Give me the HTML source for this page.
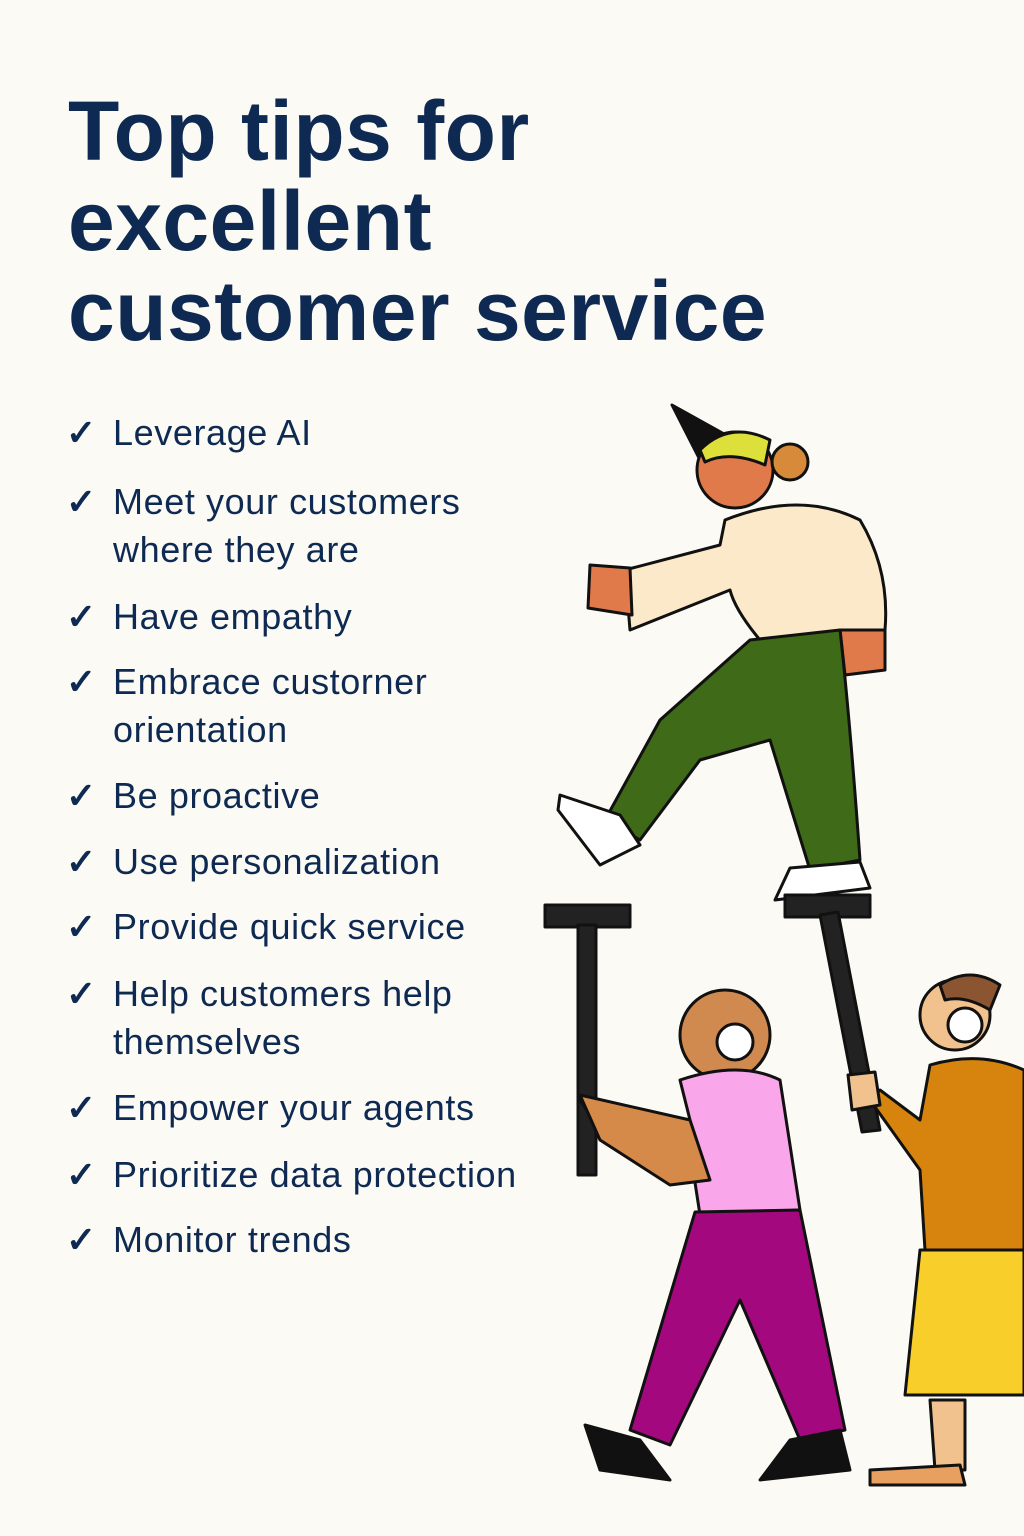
<!DOCTYPE html>
<html><head><meta charset="utf-8"><style>
html,body{margin:0;padding:0}
body{width:1024px;height:1536px;background:#fcfaf4;position:relative;overflow:hidden;font-family:"Liberation Sans",sans-serif;color:#0e2a52}
h1{position:absolute;left:68px;top:86px;margin:0;font-size:84px;line-height:90px;font-weight:bold;letter-spacing:0.5px}
.it{position:absolute;left:66px;font-size:36px;line-height:48px;letter-spacing:0.6px}
.it span{position:absolute;left:0;top:0;font-weight:bold}
.it div{margin-left:47px}
svg{position:absolute;left:0;top:0}
</style></head><body>
<h1>Top tips for<br>excellent<br>customer service</h1>
<div class="it" style="top:409px"><span>✓</span><div>Leverage AI</div></div>
<div class="it" style="top:478px"><span>✓</span><div>Meet your customers<br>where they are</div></div>
<div class="it" style="top:593px"><span>✓</span><div>Have empathy</div></div>
<div class="it" style="top:658px"><span>✓</span><div>Embrace custorner<br>orientation</div></div>
<div class="it" style="top:772px"><span>✓</span><div>Be proactive</div></div>
<div class="it" style="top:838px"><span>✓</span><div>Use personalization</div></div>
<div class="it" style="top:903px"><span>✓</span><div>Provide quick service</div></div>
<div class="it" style="top:970px"><span>✓</span><div>Help customers help<br>themselves</div></div>
<div class="it" style="top:1084px"><span>✓</span><div>Empower your agents</div></div>
<div class="it" style="top:1151px"><span>✓</span><div>Prioritize data protection</div></div>
<div class="it" style="top:1216px"><span>✓</span><div>Monitor trends</div></div>
<svg width="1024" height="1536" stroke="#111" stroke-width="3" stroke-linejoin="round">
<path d="M672 405 L735 440 L700 460 Z" fill="#111"/>
<circle cx="735" cy="470" r="38" fill="#e07a4a"/>
<path d="M700 450 Q730 420 770 440 L765 465 Q730 450 705 462Z" fill="#dde03a"/>
<circle cx="790" cy="462" r="18" fill="#d68a3a"/>
<path d="M725 520 Q800 490 860 520 Q890 570 885 630 L760 640 Q735 610 730 590 L630 630 L625 570 L720 545Z" fill="#fbe9c9"/>
<path d="M590 565 L630 568 L632 615 L588 608Z" fill="#e07a4a"/>
<path d="M840 630 L885 630 L885 670 L845 675Z" fill="#e07a4a"/>
<path d="M750 640 L840 630 Q850 720 860 860 L810 870 L770 740 L700 760 L640 840 L605 820 L660 720Z" fill="#3f6a18"/>
<path d="M560 795 L620 815 L640 845 L600 865 L558 810Z" fill="#fff"/>
<path d="M790 868 L860 862 L870 888 L775 900Z" fill="#fff"/>
<rect x="545" y="905" width="85" height="22" fill="#222"/>
<rect x="578" y="925" width="18" height="250" fill="#222"/>
<rect x="785" y="895" width="85" height="22" fill="#222"/>
<path d="M820 915 L838 912 L880 1130 L862 1132Z" fill="#222"/>
<circle cx="725" cy="1035" r="45" fill="#d08a50"/>
<circle cx="735" cy="1042" r="18" fill="#fff"/>
<path d="M680 1080 Q740 1060 780 1080 L800 1210 L700 1215 L690 1150 L600 1130 L580 1100 L690 1120Z" fill="#f9a6ea"/>
<path d="M580 1095 L690 1120 L710 1180 L670 1185 L600 1140Z" fill="#d68a4a"/>
<path d="M695 1212 L800 1210 L845 1430 L800 1440 L740 1300 L670 1445 L630 1430Z" fill="#a3087e"/>
<path d="M585 1425 L640 1440 L670 1480 L600 1470Z" fill="#111"/>
<path d="M790 1440 L840 1430 L850 1470 L760 1480Z" fill="#111"/>
<circle cx="955" cy="1015" r="35" fill="#f1c28e"/>
<path d="M940 985 Q970 965 1000 985 L990 1010 Q965 995 945 1000Z" fill="#8a5530"/>
<circle cx="965" cy="1025" r="17" fill="#fff"/>
<path d="M930 1065 Q980 1050 1024 1070 L1024 1250 L925 1250 L920 1170 L870 1100 L880 1090 L920 1120Z" fill="#d6840e"/>
<path d="M920 1250 L1024 1250 L1024 1395 L905 1395Z" fill="#f8ce2a"/>
<path d="M930 1400 L965 1400 L965 1470 L935 1470Z" fill="#f1c28e"/>
<path d="M870 1470 L960 1465 L965 1485 L870 1485Z" fill="#e8a060"/>
<path d="M848 1075 L875 1072 L880 1105 L852 1110Z" fill="#f1c28e"/>
</svg>
</body></html>
